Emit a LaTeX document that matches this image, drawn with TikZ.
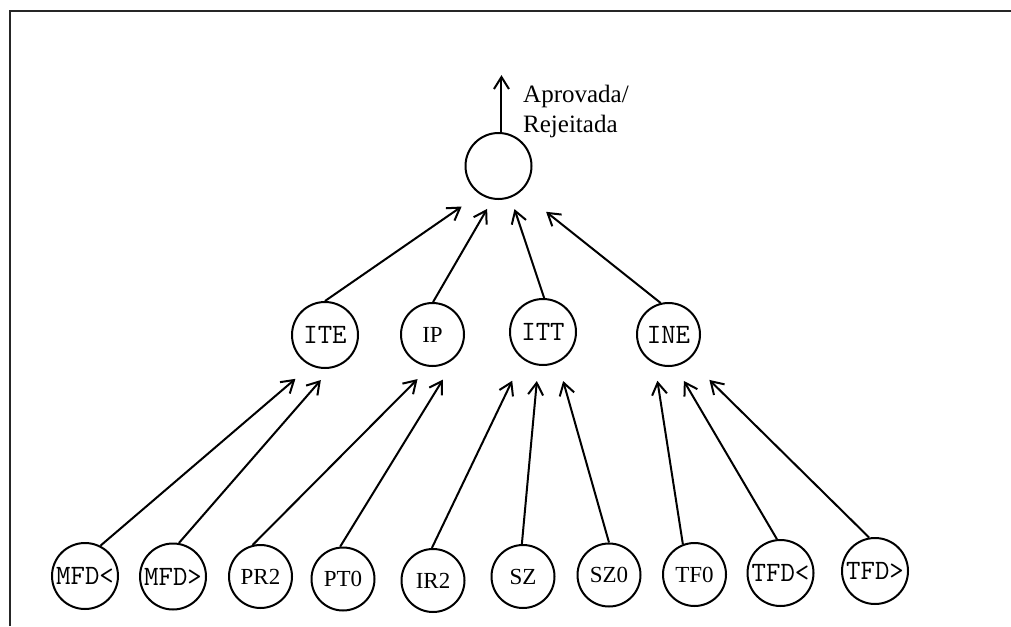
\documentclass[tikz,border=0pt]{standalone}
\usepackage{fontspec}
\setmainfont{Liberation Serif}
\usetikzlibrary{arrows.meta}
\begin{document}
\begin{tikzpicture}[x=1pt,y=-1pt,
  big/.style={circle,draw,line width=2pt,minimum size=66pt,inner sep=0pt,font=\ttfamily\fontsize{28}{30}\selectfont},
  small/.style={circle,draw,line width=2pt,minimum size=63pt,inner sep=0pt,font=\fontsize{23}{25}\selectfont},
  arr/.style={line width=2pt,-{Straight Barb[length=12pt,width=15pt]}},
  frame/.style={line width=2pt,black!85}]
\useasboundingbox (0,0) rectangle (1011,626);
\draw[frame] (9.5,626) -- (9.5,11) -- (1011,11);

\node[big] (top) at (498.5,166) {};
\node[big] (ite) at (325,335) {ITE};
\node[small] (ip) at (432.5,334.5) {IP};
\node[big] (itt) at (543,332) {ITT};
\node[big,minimum size=63pt] (ine) at (668.5,334.5) {INE};

\node[big] (mfdl) at (85,576) {MFD<};
\node[big] (mfdg) at (173,576.5) {MFD>};
\node[small] (pr2) at (260.5,576.5) {PR2};
\node[small] (pt0) at (343,579) {PT0};
\node[small] (ir2) at (433,580.5) {IR2};
\node[small] (sz) at (523,576.5) {SZ};
\node[small] (sz0) at (609,575) {SZ0};
\node[small] (tf0) at (694.5,574.5) {TF0};
\node[big] (tfdl) at (780.5,573) {TFD<};
\node[big] (tfdg) at (875,571) {TFD>};

\draw[arr,shorten >=20pt] (mfdl.63) -- (ite.245);
\draw[arr,shorten >=15.3pt] (mfdg.80) -- (ite.280.5);
\draw[arr,shorten >=17.2pt] (pr2.104) -- (ip.265);
\draw[arr,shorten >=32.8pt] (pt0.95) -- (ip.328.6);
\draw[arr,shorten >=23.9pt] (ir2.92) -- (itt.233.5);
\draw[arr,shorten >=15.4pt] (sz.92) -- (itt.262);
\draw[arr,shorten >=19.2pt] (sz0.90) -- (itt.296.6);
\draw[arr,shorten >=17pt] (tf0.111.6) -- (ine.245.7);
\draw[arr,shorten >=17pt] (tfdl.96) -- (ine.282.8);
\draw[arr,shorten >=28.7pt] (tfdg.100.6) -- (ine.309.9);
\draw[arr,shorten >=21.7pt] (ite.90) -- (top.236.5);
\draw[arr,shorten >=10.9pt] (ip.89) -- (top.260.2);
\draw[arr,shorten >=12pt] (itt.88) -- (top.291.7);
\draw[arr,shorten >=32.3pt] (ine.104.7) -- (top.311);

\path (top.85) ++(0,-57) coordinate (out);
\draw[arr] (top.85) -- (out);
\node[anchor=base west,align=left,inner sep=0pt,font=\fontsize{25}{30}\selectfont] (lbl) at (523,132) {Aprovada/\\Rejeitada};
\end{tikzpicture}
\end{document}
